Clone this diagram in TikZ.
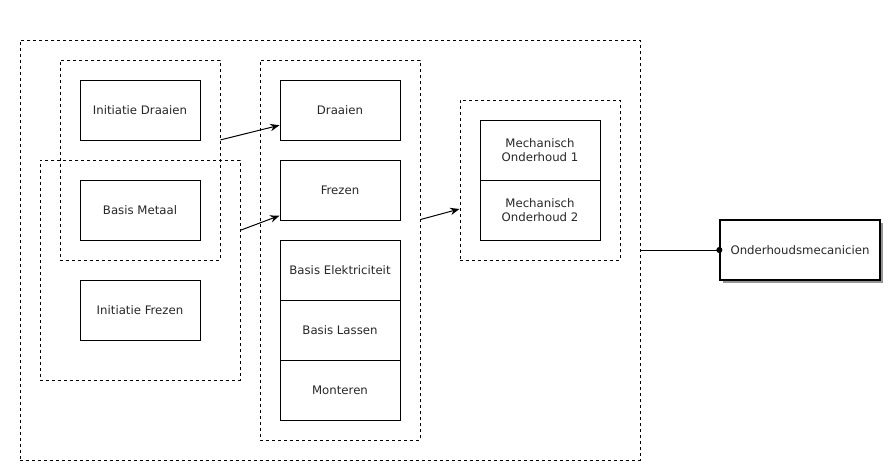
\documentclass[tikz,border=0pt]{standalone}
\usepackage{fontspec}
\setmainfont{DejaVu Sans}
\usetikzlibrary{arrows.meta,calc,fit,shadows}
\definecolor{textgray}{RGB}{40,40,40}
\definecolor{shadowgray}{RGB}{150,150,150}
\tikzset{
  box/.style={
    draw=black,
    line width=0.75pt,
    fill=white,
    align=center,
    inner sep=0pt,
    minimum width=90pt,
    minimum height=45pt,
    text=textgray,
    font=\fontsize{8.8}{10.8}\selectfont
  },
  endbox/.style={box, line width=1.5pt, minimum width=120pt,
    drop shadow={shadow xshift=2.25pt, shadow yshift=-2.25pt, fill=shadowgray, opacity=1}},
  group/.style={draw=black, line width=0.75pt, dash pattern=on 2.25pt off 2.25pt, inner sep=0pt},
  arrow/.style={-{Stealth[length=7pt,width=5.5pt]}, line width=0.75pt},
  link/.style={-{Circle[length=4.5pt, sep=-2.5pt]}, line width=0.75pt}
}
\begin{document}
\begin{tikzpicture}[x=0.75pt, y=-0.75pt]
  \useasboundingbox (0,0) rectangle (888,465);
  % dashed groups
  \node[group, fit={(20,40) (640,460)}] (outer) {};
  \node[group, fit={(60,60) (220,260)}] (grpA) {};
  \node[group, fit={(40,160) (240,380)}] (grpB) {};
  \node[group, fit={(260,60) (420,440)}] (grpC) {};
  \node[group, fit={(460,100) (620,260)}] (grpD) {};
  % left column
  \node[box] (initdraai) at (140,110) {Initiatie Draaien};
  \node[box] (metaal) at (140,210) {Basis Metaal};
  \node[box] (initfrees) at (140,310) {Initiatie Frezen};
  % middle column
  \node[box] (draaien) at (340,110) {Draaien};
  \node[box] (frezen) at (340,190) {Frezen};
  \node[box] (elek) at (340,270) {Basis Elektriciteit};
  \node[box] (lassen) at (340,330) {Basis Lassen};
  \node[box] (monteren) at (340,390) {Monteren};
  % right column
  \node[box] (mech1) at (540,150) {Mechanisch\\Onderhoud 1};
  \node[box] (mech2) at (540,210) {Mechanisch\\Onderhoud 2};
  \node[endbox] (mecanicien) at (800,250) {Onderhoudsmecanicien};
  \draw[arrow] ($(grpA.north east)!0.4!(grpA.south east)$) -- ($(draaien.north west)!0.75!(draaien.south west)$);
  \draw[arrow] ($(grpB.north east)!0.32!(grpB.south east)$) -- ($(frezen.north west)!0.92!(frezen.south west)$);
  \draw[arrow] ($(grpC.north east)!0.42!(grpC.south east)$) -- ($(grpD.north west)!0.68!(grpD.south west)$);
  \draw[link] (outer.east) -- (mecanicien.west);
\end{tikzpicture}
\end{document}
